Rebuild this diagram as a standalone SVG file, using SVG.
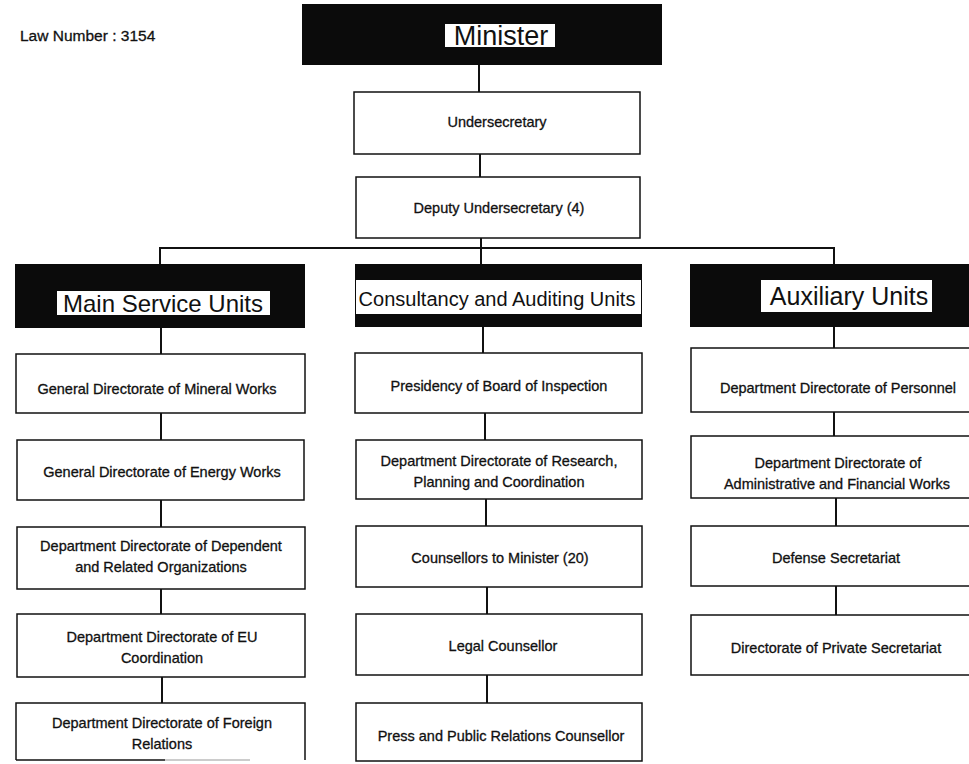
<svg xmlns="http://www.w3.org/2000/svg" width="969" height="764" viewBox="0 0 969 764">
<style>
.bg{fill:#fff}
.box{fill:#fff;stroke:#111;stroke-width:1.5}
.dark{fill:#0b0b0b}
.lab{fill:#fff}
.t{font-family:"Liberation Sans",Arial,sans-serif;font-size:14.5px;fill:#111;stroke:#111;stroke-width:0.3;text-anchor:middle}
.h{font-family:"Liberation Sans",Arial,sans-serif;fill:#111;text-anchor:middle}
.conn line{stroke:#111;stroke-width:2}
</style>
<rect class="bg" x="0" y="0" width="969" height="764"/>
<text id="law" x="20" y="41" font-family="Liberation Sans, Arial, sans-serif" font-size="15.5" fill="#111" stroke="#111" stroke-width="0.3">Law Number : 3154</text>

<g class="conn" id="connectors">
<line x1="479" y1="65" x2="479" y2="92"/>
<line x1="480" y1="154" x2="480" y2="177"/>
<line x1="481" y1="238" x2="481" y2="264"/>
<line x1="160" y1="248" x2="834" y2="248"/>
<line x1="160" y1="247" x2="160" y2="264"/>
<line x1="834" y1="247" x2="834" y2="264"/>
<line x1="161" y1="328" x2="161" y2="354"/>
<line x1="161" y1="413" x2="161" y2="440"/>
<line x1="161" y1="500" x2="161" y2="527"/>
<line x1="161" y1="589" x2="161" y2="614"/>
<line x1="162" y1="677" x2="162" y2="703"/>
<line x1="483" y1="327" x2="483" y2="353"/>
<line x1="485" y1="413" x2="485" y2="440"/>
<line x1="486" y1="499" x2="486" y2="526"/>
<line x1="487" y1="587" x2="487" y2="614"/>
<line x1="487" y1="675" x2="487" y2="703"/>
<line x1="834" y1="327" x2="834" y2="348"/>
<line x1="834" y1="412" x2="834" y2="436"/>
<line x1="836" y1="498" x2="836" y2="526"/>
<line x1="836" y1="586" x2="836" y2="615"/>
</g>

<g id="minister">
<rect class="dark" x="302" y="4" width="360" height="61"/>
<rect class="lab" x="445" y="24" width="110" height="23"/>
<text class="h" x="501" y="45" font-size="27">Minister</text>
</g>
<g id="undersecretary">
<rect class="box" x="354" y="92" width="286" height="62"/>
<text class="t" x="497" y="127">Undersecretary</text>
</g>
<g id="deputy">
<rect class="box" x="356" y="177" width="284" height="61"/>
<text class="t" x="499" y="213">Deputy Undersecretary (4)</text>
</g>

<g id="main-units">
<rect class="dark" x="15" y="264" width="290" height="64"/>
<rect class="lab" x="57" y="291" width="213" height="24"/>
<text class="h" x="163" y="312" font-size="24">Main Service Units</text>
</g>
<g id="consult-units">
<rect class="dark" x="355" y="264" width="287" height="63"/>
<rect class="lab" x="356" y="280" width="285" height="34"/>
<text class="h" x="497" y="306" font-size="20">Consultancy and Auditing Units</text>
</g>
<g id="aux-units">
<rect class="dark" x="690" y="264" width="290" height="63"/>
<rect class="lab" x="761" y="280" width="171" height="32"/>
<text class="h" x="849" y="305" font-size="25">Auxiliary Units</text>
</g>

<g id="mineral">
<rect class="box" x="16" y="354" width="289" height="59"/>
<text class="t" x="157" y="394">General  Directorate of Mineral Works</text>
</g>
<g id="energy">
<rect class="box" x="17" y="440" width="287" height="60"/>
<text class="t" x="162" y="477">General Directorate of Energy Works</text>
</g>
<g id="dependent">
<rect class="box" x="17" y="527" width="288" height="62"/>
<text class="t" x="161" y="551">Department Directorate of Dependent</text>
<text class="t" x="161" y="572">and Related Organizations</text>
</g>
<g id="eu">
<rect class="box" x="17" y="614" width="288" height="63"/>
<text class="t" x="162" y="642">Department Directorate of EU</text>
<text class="t" x="162" y="663">Coordination</text>
</g>
<g id="foreign">
<path d="M16 760 V703 H305 V760" fill="#fff" stroke="#111" stroke-width="1.5"/>
<line x1="16" y1="760" x2="165" y2="760" stroke="#111" stroke-width="1.5"/>
<line x1="165" y1="760" x2="250" y2="760" stroke="#999" stroke-width="1"/>
<text class="t" x="162" y="728">Department Directorate of Foreign</text>
<text class="t" x="162" y="749">Relations</text>
</g>

<g id="presidency">
<rect class="box" x="355" y="353" width="287" height="60"/>
<text class="t" x="499" y="391">Presidency of Board of Inspection</text>
</g>
<g id="research">
<rect class="box" x="356" y="440" width="286" height="59"/>
<text class="t" x="499" y="466">Department Directorate of Research,</text>
<text class="t" x="499" y="487">Planning and Coordination</text>
</g>
<g id="counsellors">
<rect class="box" x="356" y="526" width="286" height="61"/>
<text class="t" x="500" y="563">Counsellors to Minister (20)</text>
</g>
<g id="legal">
<rect class="box" x="356" y="614" width="286" height="61"/>
<text class="t" x="503" y="651">Legal Counsellor</text>
</g>
<g id="press">
<rect class="box" x="356" y="703" width="286" height="58"/>
<text class="t" x="501" y="741">Press and Public Relations Counsellor</text>
</g>

<g id="personnel">
<rect class="box" x="691" y="348" width="290" height="64"/>
<text class="t" x="838" y="393">Department Directorate of Personnel</text>
</g>
<g id="administrative">
<rect class="box" x="691" y="436" width="290" height="62"/>
<text class="t" x="838" y="468">Department Directorate of</text>
<text class="t" x="837" y="489">Administrative and Financial Works</text>
</g>
<g id="defense">
<rect class="box" x="691" y="526" width="290" height="60"/>
<text class="t" x="836" y="563">Defense Secretariat</text>
</g>
<g id="private">
<rect class="box" x="691" y="615" width="290" height="60"/>
<text class="t" x="836" y="653">Directorate of Private Secretariat</text>
</g>
</svg>
